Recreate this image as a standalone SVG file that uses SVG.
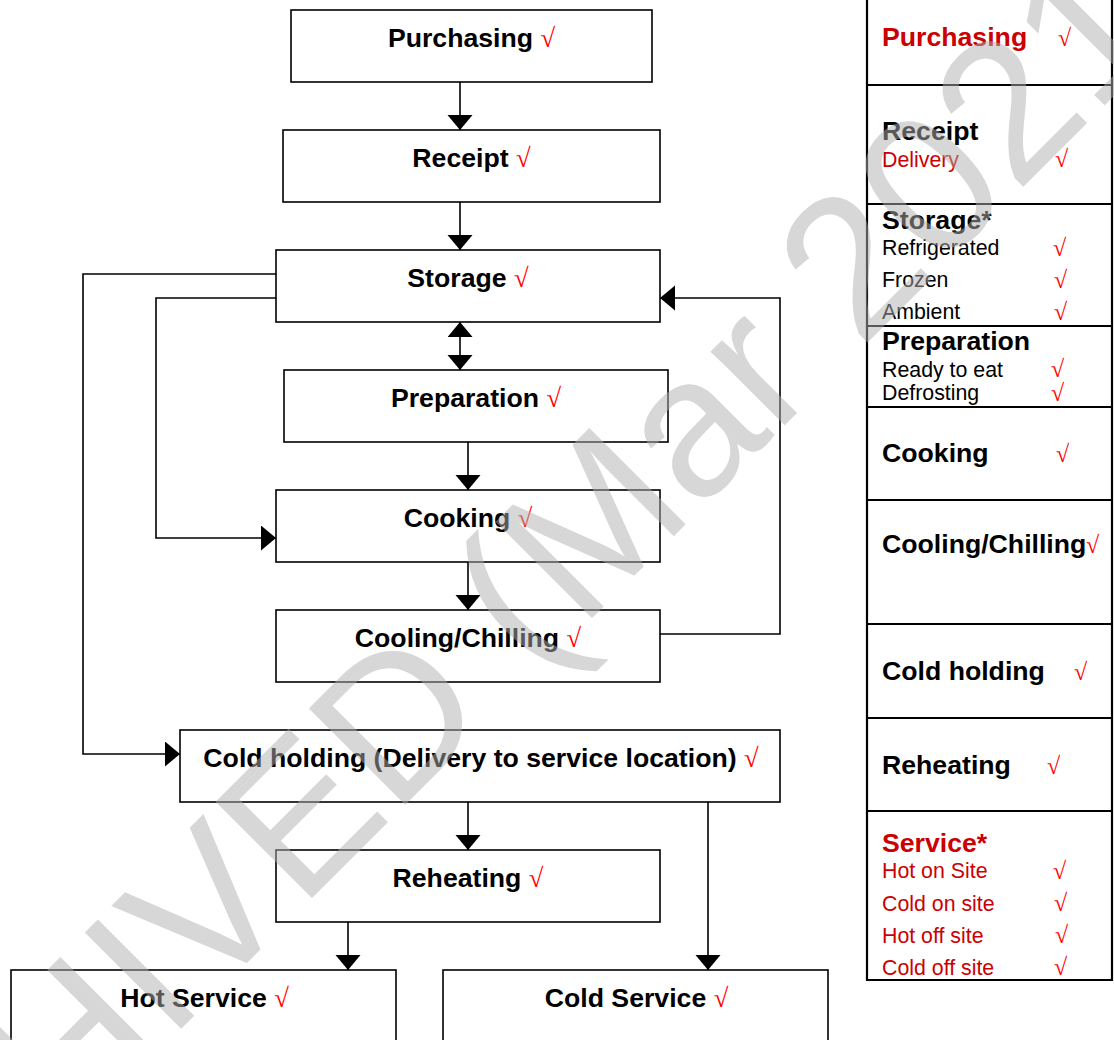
<svg xmlns="http://www.w3.org/2000/svg" width="1114" height="1040" viewBox="0 0 1114 1040">
<style>
.box{fill:#fff;stroke:#000;stroke-width:1.6}
.lbl{font-family:'Liberation Sans',Arial,sans-serif;font-weight:bold;font-size:26.67px;fill:#000;text-anchor:middle}
.ck{font-family:'Liberation Serif','Times New Roman',serif;font-weight:normal;fill:#ff0000}
.con{fill:none;stroke:#000;stroke-width:1.6}
.tl{stroke:#000;stroke-width:2.2;fill:none}
.th{font-family:'Liberation Sans',Arial,sans-serif;font-weight:bold;font-size:26.67px;fill:#000}
.ts{font-family:'Liberation Sans',Arial,sans-serif;font-size:21.33px;fill:#000}
.red{fill:#cc0000}
.tck{font-family:'Liberation Serif','Times New Roman',serif;font-size:24px;fill:#ff0000}
.wm{font-family:'Liberation Sans',Arial,sans-serif;font-size:198px;fill:#b0b0b0;fill-opacity:0.5;text-anchor:middle}
</style>
<defs>
<marker id="ah" markerUnits="userSpaceOnUse" markerWidth="16" markerHeight="26" refX="15" refY="12.5" orient="auto-start-reverse" viewBox="0 0 16 26">
<path d="M0,0 L15,12.5 L0,25 z" fill="#000"/>
</marker>
</defs>
<rect width="1114" height="1040" fill="#fff"/>
<g id="connectors">
<line class="con" x1="460" y1="82" x2="460" y2="130" marker-end="url(#ah)"/>
<line class="con" x1="460" y1="202" x2="460" y2="250" marker-end="url(#ah)"/>
<line class="con" x1="460" y1="322" x2="460" y2="370" marker-start="url(#ah)" marker-end="url(#ah)"/>
<line class="con" x1="468" y1="442" x2="468" y2="490" marker-end="url(#ah)"/>
<line class="con" x1="468" y1="562" x2="468" y2="610" marker-end="url(#ah)"/>
<path class="con" d="M660,634 H780 V298 H660" marker-end="url(#ah)"/>
<path class="con" d="M276,298 H156 V538 H276" marker-end="url(#ah)"/>
<path class="con" d="M276,274 H83 V754 H180" marker-end="url(#ah)"/>
<line class="con" x1="468" y1="802" x2="468" y2="850" marker-end="url(#ah)"/>
<line class="con" x1="708" y1="802" x2="708" y2="970" marker-end="url(#ah)"/>
<line class="con" x1="348" y1="922" x2="348" y2="970" marker-end="url(#ah)"/>
</g>
<g id="purchasing"><rect class="box" x="291" y="10" width="361" height="72"/><text class="lbl" x="471.5" y="47">Purchasing <tspan class="ck">√</tspan></text></g>
<g id="receipt"><rect class="box" x="283" y="130" width="377" height="72"/><text class="lbl" x="471.5" y="167">Receipt <tspan class="ck">√</tspan></text></g>
<g id="storage"><rect class="box" x="276" y="250" width="384" height="72"/><text class="lbl" x="468" y="287">Storage <tspan class="ck">√</tspan></text></g>
<g id="preparation"><rect class="box" x="284" y="370" width="384" height="72"/><text class="lbl" x="476" y="407">Preparation <tspan class="ck">√</tspan></text></g>
<g id="cooking"><rect class="box" x="276" y="490" width="384" height="72"/><text class="lbl" x="468" y="527">Cooking <tspan class="ck">√</tspan></text></g>
<g id="cooling"><rect class="box" x="276" y="610" width="384" height="72"/><text class="lbl" x="468" y="647">Cooling/Chilling <tspan class="ck">√</tspan></text></g>
<g id="coldholding"><rect class="box" x="180" y="730" width="600" height="72"/><text class="lbl" x="481" y="767">Cold holding (Delivery to service location) <tspan class="ck">√</tspan></text></g>
<g id="reheating"><rect class="box" x="276" y="850" width="384" height="72"/><text class="lbl" x="468" y="887">Reheating <tspan class="ck">√</tspan></text></g>
<g id="hotservice"><rect class="box" x="11" y="970" width="385" height="74"/><text class="lbl" x="204.5" y="1007">Hot Service <tspan class="ck">√</tspan></text></g>
<g id="coldservice"><rect class="box" x="443" y="970" width="385" height="74"/><text class="lbl" x="636.5" y="1007">Cold Service <tspan class="ck">√</tspan></text></g>
<g id="table">
<path class="tl" d="M867,-2 V980 H1112 V-2"/>
<path class="tl" d="M867,85 H1112 M867,204 H1112 M867,326 H1112 M867,407 H1112 M867,500 H1112 M867,624 H1112 M867,718 H1112 M867,811 H1112"/>
<text class="th red" x="882" y="46">Purchasing</text><text class="tck" x="1058" y="46">√</text>
<text class="th" x="882" y="140">Receipt</text>
<text class="ts red" x="882" y="167">Delivery</text><text class="tck" x="1055" y="167">√</text>
<text class="th" x="882" y="229">Storage*</text>
<text class="ts" x="882" y="255">Refrigerated</text><text class="tck" x="1053" y="256">√</text>
<text class="ts" x="882" y="287">Frozen</text><text class="tck" x="1054" y="288">√</text>
<text class="ts" x="882" y="319">Ambient</text><text class="tck" x="1054" y="320">√</text>
<text class="th" x="882" y="350">Preparation</text>
<text class="ts" x="882" y="377">Ready to eat</text><text class="tck" x="1051" y="377">√</text>
<text class="ts" x="882" y="400">Defrosting</text><text class="tck" x="1051" y="401">√</text>
<text class="th" x="882" y="462">Cooking</text><text class="tck" x="1056" y="462">√</text>
<text class="th" x="882" y="553">Cooling/Chilling</text><text class="tck" x="1086" y="553">√</text>
<text class="th" x="882" y="680">Cold holding</text><text class="tck" x="1074" y="680">√</text>
<text class="th" x="882" y="774">Reheating</text><text class="tck" x="1047" y="774">√</text>
<text class="th red" x="882" y="852">Service*</text>
<text class="ts red" x="882" y="878">Hot on Site</text><text class="tck" x="1053" y="879">√</text>
<text class="ts red" x="882" y="911">Cold on site</text><text class="tck" x="1054" y="911">√</text>
<text class="ts red" x="882" y="943">Hot off site</text><text class="tck" x="1055" y="943">√</text>
<text class="ts red" x="882" y="975">Cold off site</text><text class="tck" x="1054" y="975">√</text>
</g>
<text class="wm" x="495" y="715" transform="rotate(-45 495 715)">ARCHIVED (Mar 2021)</text>
</svg>
